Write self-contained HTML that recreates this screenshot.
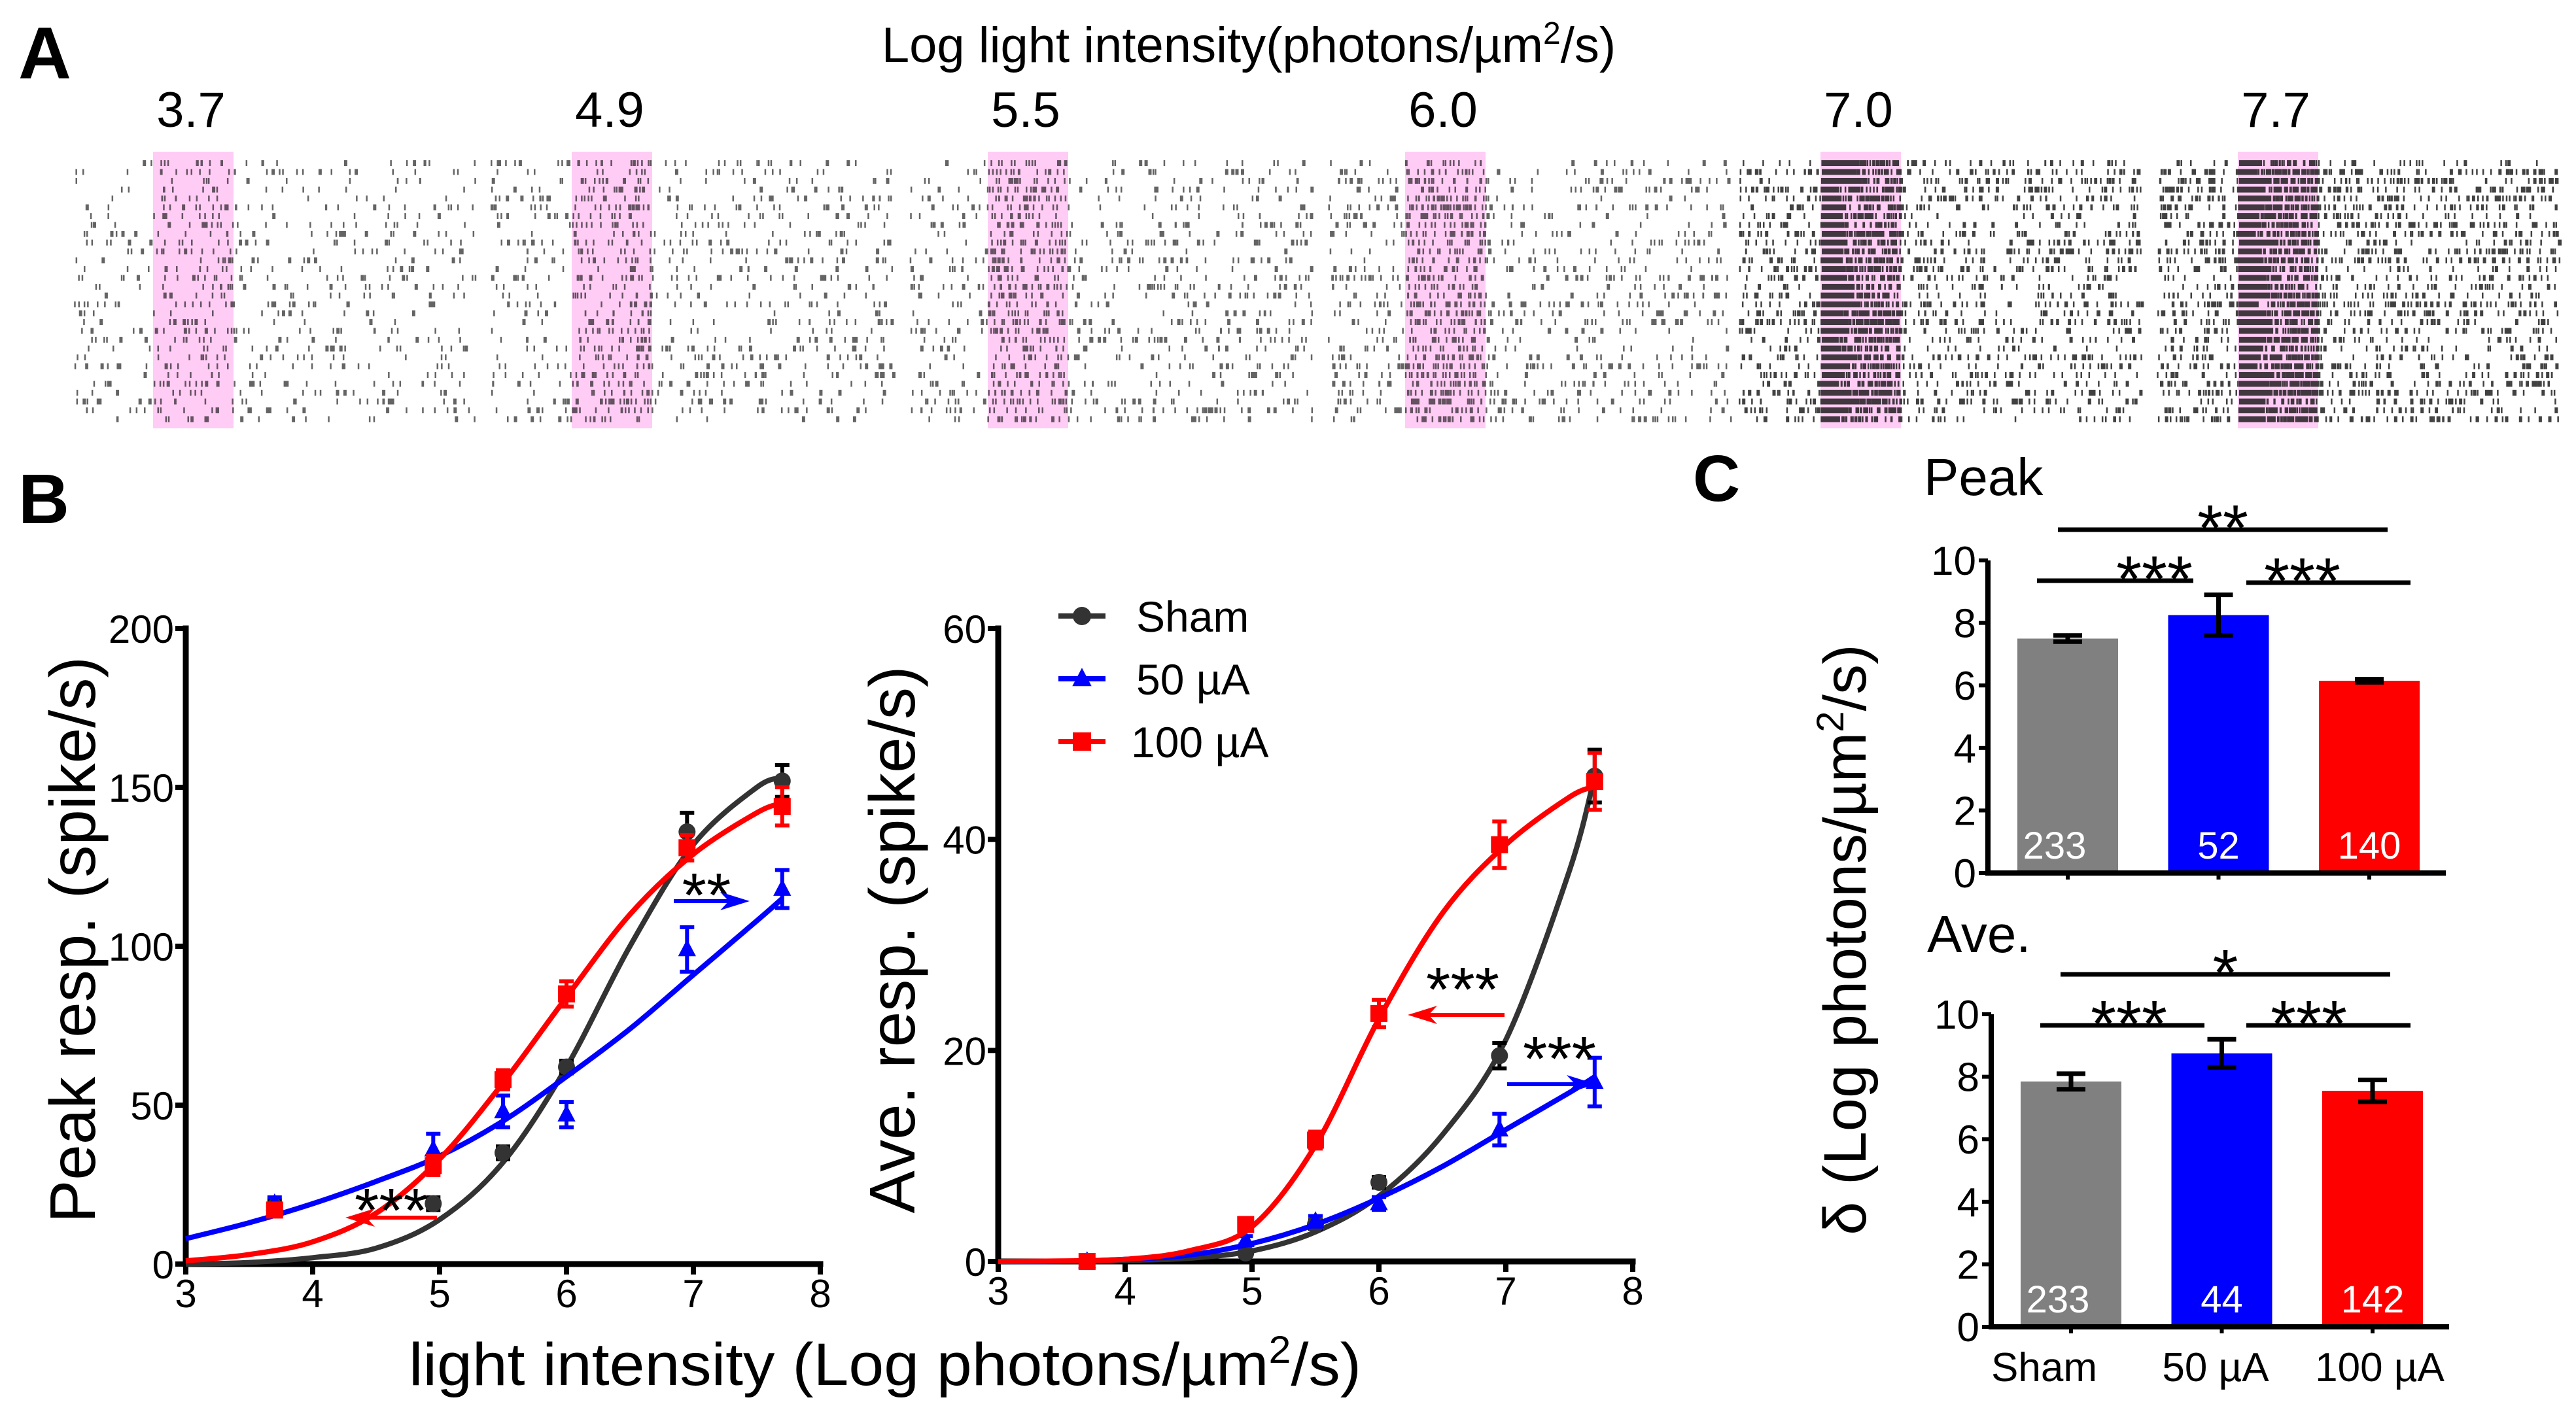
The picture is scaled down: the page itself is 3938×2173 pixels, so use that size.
<!DOCTYPE html>
<html><head><meta charset="utf-8">
<style>
html,body{margin:0;padding:0;background:#fff;}
svg{display:block;font-family:"Liberation Sans",Arial,sans-serif;}
</style></head>
<body>
<svg id="fig" width="3938" height="2173" viewBox="0 0 3938 2173" xmlns="http://www.w3.org/2000/svg">
<rect x="0" y="0" width="3938" height="2173" fill="#fff"/>
<g id="panelA"></g>
<g id="panelB1"></g>
<g id="panelB2"></g>
<g id="panelC"></g>
</svg>
<script>
// ===== DATA =====
const intensityLabels = ["3.7","4.9","5.5","6.0","7.0","7.7"];
const rasterRates = [20, 24, 28, 32, 50, 62];
const rasterBurst = [3, 7, 10, 13, 45, 55];
const xPoints = [3.7, 4.95, 5.5, 6.0, 6.95, 7.7];
const peakSham = [18, 19, 35, 62, 136, 152];
const peakShamErr = [2, 2, 2, 2, 6, 5];
const peak50 = [19, 36, 48, 47, 99, 118];
const peak50Err = [2, 5, 5, 4, 7, 6];
const peak100 = [17, 31, 58, 85, 131, 144];
const peak100Err = [2, 3, 3, 4, 4, 6];
const aveSham = [0, 0.8, 3.5, 7.5, 19.5, 46];
const aveShamErr = [0.3, 0.3, 0.4, 0.5, 1.2, 2.5];
const ave50 = [0, 2, 3.8, 5.5, 12.5, 17];
const ave50Err = [0.3, 0.4, 0.5, 0.6, 1.5, 2.3];
const ave100 = [0, 3.5, 11.5, 23.5, 39.5, 45.5];
const ave100Err = [0.3, 0.5, 0.8, 1.3, 2.2, 2.7];
const fitX = [3, 3.5, 4, 4.5, 5, 5.5, 6, 6.5, 7, 7.5, 7.7];
const peakShamFit = [0, 0.5, 2, 5, 14, 32, 62, 100, 132, 150, 153];
const peak100Fit = [1, 3, 7, 16, 33, 57, 84, 110, 129, 142, 145];
const peak50Fit = [8, 13, 19, 26, 34, 45, 59, 74, 91, 108, 115];
const aveShamFit = [0, 0, 0.1, 0.3, 1, 2.8, 6.2, 12, 21, 37, 46];
const ave100Fit = [0, 0.05, 0.2, 1, 3.3, 11, 23, 33, 39.5, 44, 45];
const ave50Fit = [0, 0, 0.2, 0.6, 1.7, 3.5, 6, 9, 12.5, 16, 17.5];
const peakXTicks = [3, 4, 5, 6, 7, 8];
const peakYTicks = [0, 50, 100, 150, 200];
const aveYTicks = [0, 20, 40, 60];
const groups = ["Sham", "50 µA", "100 µA"];
const deltaPeak = [7.5, 8.25, 6.15];
const deltaPeakErr = [0.1, 0.65, 0.05];
const deltaPeakN = ["233", "52", "140"];
const deltaAve = [7.85, 8.75, 7.55];
const deltaAveErr = [0.25, 0.45, 0.35];
const deltaAveN = ["233", "44", "142"];
const deltaYTicks = [0, 2, 4, 6, 8, 10];
const colors = ["#333333", "#0000ff", "#ff0000"];
const barColors = ["#808080", "#0000ff", "#ff0000"];

const NS = "http://www.w3.org/2000/svg";
function mk(tag, attrs, parent, text) {
  const e = document.createElementNS(NS, tag);
  for (const k in attrs) e.setAttribute(k, attrs[k]);
  if (text !== undefined) e.textContent = text;
  parent.appendChild(e);
  return e;
}

// ===== PANEL A =====
const A = document.getElementById('panelA');
let seed = 12345;
function rnd() { seed = (seed * 1103515245 + 12345) % 2147483648; return seed / 2147483648; }
let t = mk('text', {x: 28, y: 120, 'font-size': 112, 'font-weight': 'bold'}, A, 'A');


t = mk('text', {x: 1909, y: 95, 'font-size': 76, 'text-anchor': 'middle'}, A);


t.innerHTML = 'Log light intensity(photons/µm<tspan font-size="48" dy="-28">2</tspan><tspan dy="28">/s)</tspan>';
const blockStarts = [112, 749, 1390, 2030, 2658, 3297];
const pinkStarts = [234, 874, 1510, 2148, 2783, 3421];
const blockW = 615, pinkW = 123, rowTop = 245, rowH = 13.5, nRows = 30;
intensityLabels.forEach((lab, i) => {
  const g = mk('g', {}, A);
  
  
  const p = mk('rect', {x: pinkStarts[i], y: 232, width: pinkW, height: 423, fill: '#ffccf5'}, g);
  
  
  const l = mk('text', {x: pinkStarts[i] + 58, y: 194, 'font-size': 76, 'text-anchor': 'middle'}, g, lab);
  
  
  let path = '';
  for (let r = 0; r < nRows; r++) {
    const y = rowTop + r * rowH;
    const n = Math.round(rasterRates[i] * (0.5 + 1.0 * rnd()));
    for (let k = 0; k < n; k++) {
      const x = blockStarts[i] + rnd() * blockW;
      const w = rnd() < 0.2 ? 5 : 2.5;
      path += 'M' + x.toFixed(1) + ' ' + y.toFixed(1) + 'h' + w + 'v9h-' + w + 'z';
    }
    const nb = Math.round(rasterBurst[i] * (0.6 + 0.8 * rnd()));
    for (let k = 0; k < nb; k++) {
      const x = pinkStarts[i] + rnd() * pinkW;
      path += 'M' + x.toFixed(1) + ' ' + y.toFixed(1) + 'h2.5v9h-2.5z';
    }
    if (i >= 4) {
      const bw = 25 + rnd() * 30;
      path += 'M' + (pinkStarts[i] + 2) + ' ' + y.toFixed(1) + 'h' + bw.toFixed(1) + 'v9h-' + bw.toFixed(1) + 'z';
    }
  }
  const sp = mk('path', {d: path, fill: '#111', 'fill-opacity': i >= 4 ? 0.8 : 0.65}, g);
  
  
});

// ===== PANEL B helpers =====
function smoothPath(pts) {
  let d = 'M' + pts[0][0] + ' ' + pts[0][1];
  for (let i = 0; i < pts.length - 1; i++) {
    const p0 = pts[Math.max(0, i - 1)], p1 = pts[i], p2 = pts[i + 1], p3 = pts[Math.min(pts.length - 1, i + 2)];
    const c1x = p1[0] + (p2[0] - p0[0]) / 6, c1y = p1[1] + (p2[1] - p0[1]) / 6;
    const c2x = p2[0] - (p3[0] - p1[0]) / 6, c2y = p2[1] - (p3[1] - p1[1]) / 6;
    d += 'C' + c1x.toFixed(1) + ' ' + c1y.toFixed(1) + ' ' + c2x.toFixed(1) + ' ' + c2y.toFixed(1) + ' ' + p2[0].toFixed(1) + ' ' + p2[1].toFixed(1);
  }
  return d;
}
function marker(parent, type, cx, cy, color, r) {
  let m;
  if (type === 0) m = mk('circle', {cx: cx, cy: cy, r: r, fill: color}, parent);
  else if (type === 1) m = mk('polygon', {points: (cx) + ',' + (cy - r * 1.2) + ' ' + (cx + r * 1.05) + ',' + (cy + r * 0.8) + ' ' + (cx - r * 1.05) + ',' + (cy + r * 0.8), fill: color}, parent);
  else m = mk('rect', {x: cx - r, y: cy - r, width: 2 * r, height: 2 * r, fill: color}, parent);
  return m;
}
function drawXY(G, cfg) {
  const xs = v => cfg.x0 + (v - 3) * cfg.ux;
  const ys = v => cfg.y0 - (v / cfg.ymax) * (cfg.y0 - cfg.yTop);
  const ax = mk('path', {d: 'M' + cfg.x0 + ' ' + cfg.yTop + 'V' + cfg.y0 + 'H' + xs(8), stroke: '#000', 'stroke-width': 9, fill: 'none', 'stroke-linecap': 'square'}, G);
  
  
  peakXTicks.forEach(v => {
    mk('line', {x1: xs(v), x2: xs(v), y1: cfg.y0, y2: cfg.y0 + 16, stroke: '#000', 'stroke-width': 8}, G);
    const tl = mk('text', {x: xs(v), y: cfg.y0 + 66, 'font-size': 60, 'text-anchor': 'middle'}, G, String(v));
    
    
  });
  cfg.yTicks.forEach(v => {
    mk('line', {x1: cfg.x0 - 16, x2: cfg.x0, y1: ys(v), y2: ys(v), stroke: '#000', 'stroke-width': 8}, G);
    const tl = mk('text', {x: cfg.x0 - 18, y: ys(v) + 22, 'font-size': 60, 'text-anchor': 'end'}, G, String(v));
    
    
  });
  const yl = mk('text', {x: 0, y: 0, 'font-size': 98, 'text-anchor': 'middle', transform: 'translate(' + cfg.ylx + ',' + cfg.yly + ') rotate(-90)'}, G, cfg.ylabel);
  
  
  cfg.series.forEach((s, si) => {
    const g = mk('g', {}, G);
    
    
    const pts = fitX.map((x, i) => [xs(x), ys(s.fit[i])]);
    const c = mk('path', {d: smoothPath(pts), stroke: colors[si], 'stroke-width': 8, fill: 'none'}, g);
    
    
    xPoints.forEach((x, i) => {
      const cx = xs(x), cy = ys(s.vals[i]);
      const e1 = ys(s.vals[i] + s.err[i]), e2 = ys(s.vals[i] - s.err[i]);
      const eb = mk('path', {d: 'M' + cx + ' ' + e1 + 'V' + e2 + 'M' + (cx - 11) + ' ' + e1 + 'h22M' + (cx - 11) + ' ' + e2 + 'h22', stroke: si === 0 ? '#000' : colors[si], 'stroke-width': 6, fill: 'none'}, g);
      
      
      const m = marker(g, si, cx, cy, colors[si], 13);
      
      
    });
  });
  return {xs, ys};
}
function arrow(G, x1, x2, y, color, name) {
  const dir = x2 > x1 ? 1 : -1;
  const g = mk('g', {}, G);
  
  
  mk('line', {x1: x1, x2: x2 - dir * 10, y1: y, y2: y, stroke: color, 'stroke-width': 6}, g);
  mk('polygon', {points: x2 + ',' + y + ' ' + (x2 - dir * 45) + ',' + (y - 14) + ' ' + (x2 - dir * 32) + ',' + y + ' ' + (x2 - dir * 45) + ',' + (y + 14), fill: color}, g);
}
function stars(G, x, y, s, name, size) {
  const t = mk('text', {x: x, y: y, 'font-size': size || 96, 'text-anchor': 'middle'}, G, s);
  
  
}

// ===== PANEL B1 =====
const B1 = document.getElementById('panelB1');
t = mk('text', {x: 28, y: 800, 'font-size': 108, 'font-weight': 'bold'}, B1, 'B');


drawXY(B1, {x0: 284, ux: 194, y0: 1933, yTop: 961, ymax: 200, yTicks: peakYTicks, ylabel: 'Peak resp. (spike/s)', ylx: 145, yly: 1437,
  series: [{name: 'sham', vals: peakSham, err: peakShamErr, fit: peakShamFit},
           {name: '50ua', vals: peak50, err: peak50Err, fit: peak50Fit},
           {name: '100ua', vals: peak100, err: peak100Err, fit: peak100Fit}]});
stars(B1, 598, 1884, '***', 'significance-peak-100');
arrow(B1, 668, 528, 1862, '#ff0000', 'shift-arrow-100');
stars(B1, 1080, 1402, '**', 'significance-peak-50');
arrow(B1, 1030, 1146, 1378, '#0000ff', 'shift-arrow-50');

// ===== PANEL B2 =====
const B2 = document.getElementById('panelB2');
drawXY(B2, {x0: 1526, ux: 194, y0: 1929, yTop: 961, ymax: 60, yTicks: aveYTicks, ylabel: 'Ave. resp. (spike/s)', ylx: 1398, yly: 1437,
  series: [{name: 'sham', vals: aveSham, err: aveShamErr, fit: aveShamFit},
           {name: '50ua', vals: ave50, err: ave50Err, fit: ave50Fit},
           {name: '100ua', vals: ave100, err: ave100Err, fit: ave100Fit}]});
stars(B2, 2236, 1546, '***', 'significance-ave-100');
arrow(B2, 2300, 2152, 1552, '#ff0000', 'shift-arrow-ave-100');
stars(B2, 2384, 1652, '***', 'significance-ave-50');
arrow(B2, 2304, 2440, 1658, '#0000ff', 'shift-arrow-ave-50');
const legNames = ['Sham', '50 µA', '100 µA'];
const legY = [942, 1038, 1134];
legNames.forEach((n, i) => {
  const g = mk('g', {}, B2);
  
  
  mk('line', {x1: 1618, x2: 1690, y1: legY[i], y2: legY[i], stroke: colors[i], 'stroke-width': 8}, g);
  marker(g, i, 1654, legY[i], colors[i], 14);
  mk('text', {x: i === 2 ? 1729 : 1737, y: legY[i] + 24, 'font-size': 66}, g, n);
});
t = mk('text', {x: 625, y: 2118, 'font-size': 92, textLength: 1456, lengthAdjust: 'spacingAndGlyphs'}, B2);


t.innerHTML = 'light intensity (Log photons/µm<tspan font-size="58" dy="-34">2</tspan><tspan dy="34">/s)</tspan>';

// ===== PANEL C =====
const C = document.getElementById('panelC');
t = mk('text', {x: 2588, y: 766, 'font-size': 100, 'font-weight': 'bold'}, C, 'C');


t = mk('text', {x: 0, y: 0, 'font-size': 92, 'text-anchor': 'middle', transform: 'translate(2852,1437) rotate(-90)'}, C);


t.innerHTML = 'δ (Log photons/µm<tspan font-size="58" dy="-34">2</tspan><tspan dy="34">/s)</tspan>';
function barChart(cfg) {
  const G = mk('g', {}, C);
  
  
  const ys = v => cfg.y0 - (v / 10) * (cfg.y0 - cfg.y10);
  const centers = groups.map((g, i) => cfg.x0 + 122 + i * 230.5);
  cfg.vals.forEach((v, i) => {
    const b = mk('rect', {x: centers[i] - 77, y: ys(v), width: 154, height: cfg.y0 - ys(v), fill: barColors[i]}, G);
    
    
    const e1 = ys(v + cfg.err[i]), e2 = ys(v - cfg.err[i]);
    const eb = mk('path', {d: 'M' + centers[i] + ' ' + e1 + 'V' + e2 + 'M' + (centers[i] - 22) + ' ' + e1 + 'h44M' + (centers[i] - 22) + ' ' + e2 + 'h44', stroke: '#000', 'stroke-width': 7, fill: 'none'}, G);
    
    
    const nt = mk('text', {x: centers[i] - (i === 0 ? 20 : 0), y: cfg.y0 - 22, 'font-size': 58, fill: '#fff', 'text-anchor': 'middle'}, G, cfg.n[i]);
    
    
    mk('line', {x1: centers[i], x2: centers[i], y1: cfg.y0, y2: cfg.y0 + 10, stroke: '#000', 'stroke-width': 6}, G);
  });
  mk('path', {d: 'M' + cfg.x0 + ' ' + cfg.y10 + 'V' + cfg.y0 + 'H' + (cfg.x0 + 700), stroke: '#000', 'stroke-width': 8, fill: 'none'}, G);
  deltaYTicks.forEach(v => {
    mk('line', {x1: cfg.x0 - 14, x2: cfg.x0, y1: ys(v), y2: ys(v), stroke: '#000', 'stroke-width': 6}, G);
    const tl = mk('text', {x: cfg.x0 - 18, y: ys(v) + 22, 'font-size': 62, 'text-anchor': 'end'}, G, String(v));
    
    
  });
  const title = mk('text', {x: cfg.tx, y: cfg.ty, 'font-size': 80}, G, cfg.title);
  
  
  cfg.sig.forEach(s => {
    mk('line', {x1: s[0], x2: s[1], y1: s[2], y2: s[2], stroke: '#000', 'stroke-width': 7}, G);
    stars(G, (s[0] + s[1]) / 2 + (s[4] || 0), s[2] + 32, s[3], 'significance-stars', 100);
  });
  return centers;
}
barChart({name: 'delta-peak-chart', x0: 3039, y0: 1335, y10: 857, vals: deltaPeak, err: deltaPeakErr, n: deltaPeakN, title: 'Peak', tx: 2941, ty: 757,
  sig: [[3146, 3650, 810, '**', 0], [3114, 3353, 888, '***', 60], [3434, 3685, 891, '***', -40]]});
barChart({name: 'delta-ave-chart', x0: 3044, y0: 2029, y10: 1551, vals: deltaAve, err: deltaAveErr, n: deltaAveN, title: 'Ave.', tx: 2946, ty: 1456,
  sig: [[3150, 3654, 1490, '*', 0], [3119, 3370, 1568, '***', 10], [3434, 3685, 1568, '***', -30]]});
const gxc = [3125, 3387, 3638];
groups.forEach((g, i) => {
  const tl = mk('text', {x: gxc[i], y: 2112, 'font-size': 62, 'text-anchor': 'middle'}, C, g);
  
  
});
</script>
</body></html>
